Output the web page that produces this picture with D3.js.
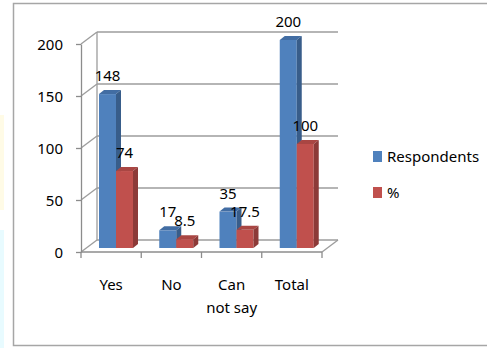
<!DOCTYPE html>
<html>
<head>
<meta charset="utf-8">
<script src="https://cdn.jsdelivr.net/npm/d3@7"></script>
<style>
  html, body { margin: 0; padding: 0; background: #fff; }
  svg { display: block; }
  text { font-family: "Noto Sans", "Open Sans", sans-serif; fill: #000; }
</style>
</head>
<body>
<svg id="chart" width="487" height="348"></svg>
<script>
// Survey answers and counts
const categories = ["Yes", "No", "Can not say", "Total"];
const seriesNames = ["Respondents", "%"];
const respondents = [148, 17, 35, 200];
const percent = [74, 8.5, 17.5, 100];
const yTicks = [0, 50, 100, 150, 200];

const colors = {
  "Respondents": { front: "#4f81bd", side: "#385d8a", top: "#426da3" },
  "%":           { front: "#c0504d", side: "#8c3a38", top: "#a94643" }
};

const svg = d3.select("#chart");
const W = 487, H = 348;

// faint page strips along the left edge
svg.append("rect").attr("x", 0).attr("y", 115).attr("width", 4).attr("height", 95).attr("fill", "#fffbe6");
svg.append("rect").attr("x", 0).attr("y", 230).attr("width", 4).attr("height", 118).attr("fill", "#e8fbff");

// chart frame
svg.append("path")
  .attr("d", `M${W + 2},3.5 H13.5 V345.5 H${W + 2}`)
  .attr("fill", "none").attr("stroke", "#a6a6a6").attr("stroke-width", 1.5);

// front plane scales
const x = d3.scaleBand().domain(categories).range([81, 322]).padding(0);
const y = d3.scaleLinear().domain([0, 200]).range([252, 44]);

// perspective offsets: back wall and bar depth
const wallDx = 16, wallDy = -12;
const barDx = 5, barDy = -4;      // bar front plane shift from front axis
const depthDx = 5, depthDy = -4;  // bar thickness

const inner = d3.scaleBand().domain(seriesNames).range([13, 47]).padding(0);

const grid = svg.append("g").attr("stroke", "#9c9c9c").attr("stroke-width", 1.3).attr("fill", "none");

// back wall gridlines and side diagonals
yTicks.forEach(t => {
  const yy = y(t);
  grid.append("line")
    .attr("x1", x.range()[0] + wallDx).attr("y1", yy + wallDy)
    .attr("x2", x.range()[1] + wallDx).attr("y2", yy + wallDy);
  grid.append("line")
    .attr("x1", x.range()[0]).attr("y1", yy)
    .attr("x2", x.range()[0] + wallDx).attr("y2", yy + wallDy);
});
// back wall left edge
grid.append("line")
  .attr("x1", x.range()[0] + wallDx).attr("y1", y(200) + wallDy)
  .attr("x2", x.range()[0] + wallDx).attr("y2", y(0) + wallDy);
// floor right edge
grid.append("line")
  .attr("x1", x.range()[1]).attr("y1", y(0))
  .attr("x2", x.range()[1] + wallDx).attr("y2", y(0) + wallDy);

// bars
const rows = categories.map((c, i) => ({
  cat: c,
  vals: [
    { s: "Respondents", v: respondents[i] },
    { s: "%", v: percent[i] }
  ]
}));

const bars = svg.append("g");
rows.forEach(r => {
  r.vals.forEach(d => {
    const x0 = x(r.cat) + barDx + inner(d.s);
    const x1 = x0 + inner.bandwidth();
    const yb = y(0) + barDy;
    const yt = y(d.v) + barDy;
    const c = colors[d.s];
    const g = bars.append("g");
    // front face
    g.append("rect").attr("x", x0).attr("y", yt).attr("width", x1 - x0).attr("height", yb - yt).attr("fill", c.front);
    // top face
    g.append("path")
      .attr("d", `M${x0},${yt} L${x0 + depthDx},${yt + depthDy} L${x1 + depthDx},${yt + depthDy} L${x1},${yt} Z`)
      .attr("fill", c.top);
    // side face
    g.append("path")
      .attr("d", `M${x1},${yt} L${x1 + depthDx},${yt + depthDy} L${x1 + depthDx},${yb + depthDy} L${x1},${yb} Z`)
      .attr("fill", c.side);
  });
});

// data labels
const labels = svg.append("g").attr("font-size", 15).attr("text-anchor", "middle");
rows.forEach(r => {
  r.vals.forEach(d => {
    const cx = x(r.cat) + barDx + inner(d.s) + inner.bandwidth() / 2;
    labels.append("text")
      .attr("x", cx)
      .attr("y", y(d.v) + barDy - 13)
      .text(d.v);
  });
});

// value axis
const yAxis = svg.append("g")
  .attr("transform", `translate(${x.range()[0]},0)`)
  .call(d3.axisLeft(y).tickValues(yTicks).tickSize(5).tickSizeOuter(0).tickPadding(13));
yAxis.select(".domain").attr("stroke", "#8c8c8c").attr("stroke-width", 1.3);
yAxis.selectAll(".tick line").attr("stroke", "#8c8c8c").attr("stroke-width", 1.3);
yAxis.selectAll(".tick text").attr("font-size", 15).attr("font-family", "Noto Sans, sans-serif").attr("fill", "#000").attr("dy", "0.36em");

// category axis
const xAxisG = svg.append("g");
xAxisG.append("line")
  .attr("x1", x.range()[0]).attr("y1", y(0))
  .attr("x2", x.range()[1]).attr("y2", y(0))
  .attr("stroke", "#8c8c8c").attr("stroke-width", 1.3);
const boundaries = categories.map(c => x(c)).concat([x.range()[1]]);
boundaries.forEach(bx => {
  xAxisG.append("line")
    .attr("x1", bx).attr("y1", y(0)).attr("x2", bx).attr("y2", y(0) + 6)
    .attr("stroke", "#8c8c8c").attr("stroke-width", 1.3);
});

// category labels, wrapped to the band width
const catText = xAxisG.append("g").attr("font-size", 15).attr("text-anchor", "middle");
categories.forEach(c => {
  const cx = x(c) + x.bandwidth() / 2;
  const t = catText.append("text").attr("x", cx).attr("y", 290);
  const words = c.split(" ");
  let line = [words[0]];
  let tspan = t.append("tspan").attr("x", cx).attr("dy", 0).text(line.join(" "));
  for (let i = 1; i < words.length; i++) {
    line.push(words[i]);
    tspan.text(line.join(" "));
    if (tspan.node().getComputedTextLength() > x.bandwidth() - 6) {
      line.pop();
      tspan.text(line.join(" "));
      line = [words[i]];
      tspan = t.append("tspan").attr("x", cx).attr("dy", 23).text(words[i]);
    }
  }
});

// legend
const legend = svg.append("g").attr("font-size", 15);
seriesNames.forEach((s, i) => {
  const ly = 151 + i * 36;
  legend.append("rect").attr("x", 373).attr("y", ly).attr("width", 9).attr("height", 11).attr("fill", colors[s].front);
  legend.append("text").attr("x", 387).attr("y", ly + 11).text(s);
});
</script>
</body>
</html>
